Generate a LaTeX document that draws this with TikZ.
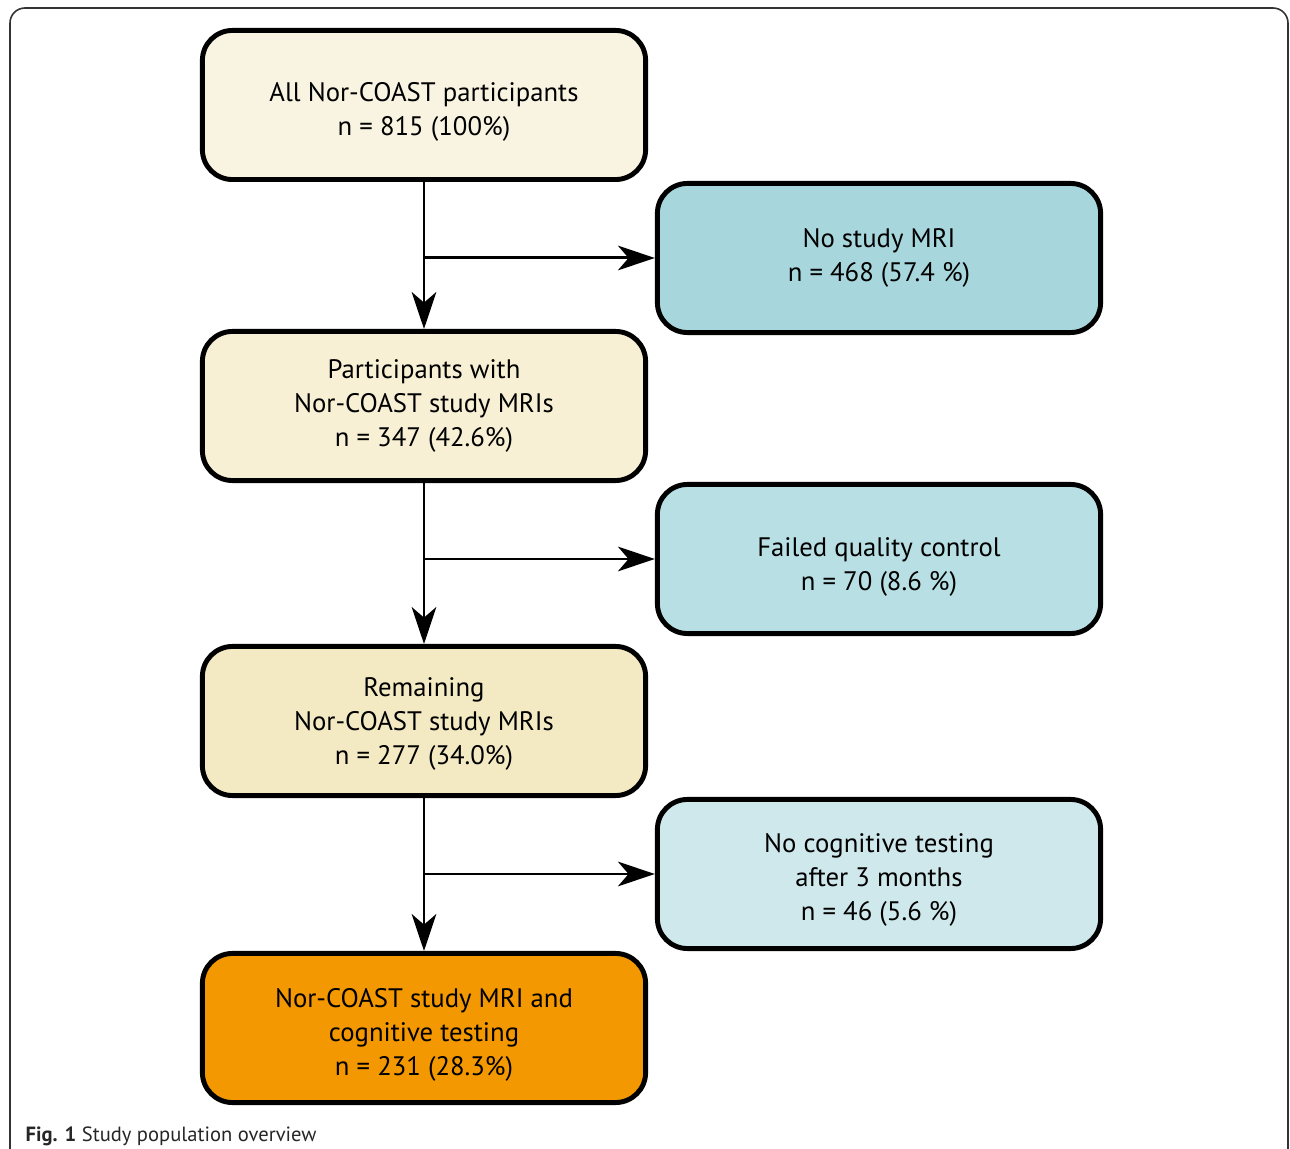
\documentclass[tikz,border=0pt]{standalone}
\usepackage{fontspec}
\setmainfont{PT Sans}
\usetikzlibrary{arrows.meta}
\definecolor{creamA}{HTML}{F8F4E1}
\definecolor{creamB}{HTML}{F7F0D4}
\definecolor{creamC}{HTML}{F3EAC4}
\definecolor{orangeD}{HTML}{F39800}
\definecolor{tealA}{HTML}{A7D7DD}
\definecolor{tealB}{HTML}{B8E0E4}
\definecolor{tealC}{HTML}{CFE8EB}
\newcommand{\lowerby}[1]{\rule{0pt}{#1}}
\begin{document}
\begin{tikzpicture}[x=0.01cm,y=-0.01cm]
	\tikzstyle{box}=[rounded corners=0.3cm,draw=black,line width=1.4pt,minimum width=4.43cm,minimum height=1.49cm,align=center,font=\fontsize{7.6}{9.7}\selectfont]
	\tikzstyle{flow}=[line width=0.85pt,-{Stealth[length=10.5pt,width=7pt,inset=3pt]}]
	\useasboundingbox (0,0) rectangle (1290,1149);
	\draw[line width=0.45pt,draw=black!80,rounded corners=0.15cm] (10,8) rectangle (1288,1220);
	\begin{scope}
	\node[box,fill=creamA] (s-1) at (424,105)  {\lowerby{9.5pt}All Nor-COAST participants\\n = 815 (100\%)};
	\node[box,fill=creamB] (s-2) at (424,406)  {Participants with\\Nor-COAST study MRIs\\n = 347 (42.6\%)};
	\node[box,fill=creamC] (s-3) at (424,721)  {\lowerby{7pt}Remaining\\Nor-COAST study MRIs\\n = 277 (34.0\%)};
	\node[box,fill=orangeD] (s-4) at (424,1028) {\lowerby{9.5pt}Nor-COAST study MRI and\\cognitive testing\\n = 231 (28.3\%)};
	\node[box,fill=tealA] (e-1) at (879,258)  {No study MRI\\n = 468 (57.4 \%)};
	\node[box,fill=tealB] (e-2) at (879,559)  {\lowerby{10pt}Failed quality control\\n = 70 (8.6 \%)};
	\node[box,fill=tealC] (e-3) at (879,874)  {\lowerby{9pt}No cognitive testing\\after 3 months\\n = 46 (5.6 \%)};
	\end{scope}
	
	\path[flow]
	(s-1) edge (s-2)
	(s-2) edge (s-3)
	(s-3) edge (s-4)
	(s-1 |- e-1) edge (e-1)
	(s-2 |- e-2) edge (e-2)
	(s-3 |- e-3) edge (e-3)
	;
	
	\node[anchor=base west,inner sep=0pt,font=\fontsize{5.85}{7}\selectfont,text=black!85] (cap) at (25,1141) {\textbf{Fig. 1} Study population overview};
\end{tikzpicture}
\end{document}
